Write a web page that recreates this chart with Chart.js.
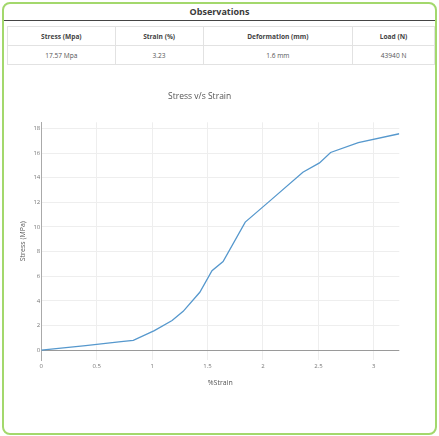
<!DOCTYPE html>
<html>
<head>
<meta charset="utf-8">
<script src="https://cdn.jsdelivr.net/npm/chart.js@4/dist/chart.umd.min.js"></script>
<style>
  html, body { margin: 0; padding: 0; background: #fff; width: 439px; height: 436px; overflow: hidden; font-family: "Open Sans", sans-serif; }
  #card { position: absolute; left: 2px; top: 2px; width: 435px; height: 433px; box-sizing: border-box; border: 2px solid #a3d86c; border-radius: 8px; }
  #head { position: absolute; left: 0; top: 0; width: 100%; height: 16px; line-height: 16px; text-align: center; font-weight: bold; font-size: 9px; color: #3a3a3a; border-bottom: 1.5px solid #444; }
  table { position: absolute; left: 3px; top: 22px; width: 428px; height: 37px; border-collapse: collapse; font-size: 6.6px; color: #555; }
  td, th { border: 1px solid #e2e2e2; text-align: center; padding: 0; height: 18px; }
  th { font-weight: bold; color: #444; }
  #chartBox { position: absolute; left: 0; top: 80px; width: 439px; height: 320px; }
</style>
</head>
<body>
<div id="card">
  <div id="head">Observations</div>
  <table id="obs">
    <colgroup><col style="width:108px"><col style="width:88px"><col style="width:150px"><col style="width:82px"></colgroup>
    <tr id="hdr"></tr>
    <tr id="val"></tr>
  </table>
</div>
<div id="chartBox"><canvas id="c" width="439" height="320"></canvas></div>
<script>
const tableHeaders = ["Stress (Mpa)", "Strain (%)", "Deformation (mm)", "Load (N)"];
const tableValues = ["17.57 Mpa", "3.23", "1.6 mm", "43940 N"];

const strain = [0, 0.4, 0.72, 0.83, 1.02, 1.18, 1.28, 1.43, 1.54, 1.64, 1.84, 2.06, 2.36, 2.51, 2.61, 2.86, 3.23];
const stress = [0, 0.37, 0.69, 0.8, 1.58, 2.4, 3.15, 4.7, 6.45, 7.2, 10.4, 12.1, 14.45, 15.2, 16.05, 16.85, 17.57];

const xTicks = [0, 0.5, 1, 1.5, 2, 2.5, 3];
const yTicks = [0, 2, 4, 6, 8, 10, 12, 14, 16, 18];

const hdr = document.getElementById('hdr');
tableHeaders.forEach(h => { const th = document.createElement('th'); th.textContent = h; hdr.appendChild(th); });
const val = document.getElementById('val');
tableValues.forEach(v => { const td = document.createElement('td'); td.textContent = v; val.appendChild(td); });

const tickColor = '#777';
new Chart(document.getElementById('c'), {
  type: 'line',
  data: {
    datasets: [{
      data: strain.map((x, i) => ({ x: x, y: stress[i] })),
      borderColor: 'rgb(86,152,205)',
      borderWidth: 1.3,
      pointRadius: 0,
      tension: 0,
      fill: false
    }]
  },
  options: {
    responsive: false,
    animation: false,
    layout: { padding: { left: 0, right: 39.7, top: 0, bottom: 0 } },
    plugins: {
      legend: { display: false },
      tooltip: { enabled: false },
      title: {
        display: true,
        text: 'Stress v/s Strain',
        color: '#555',
        font: { family: 'Open Sans', size: 8.5, weight: 'normal' },
        padding: { top: 11.9, bottom: 20.2 }
      }
    },
    scales: {
      x: {
        type: 'linear',
        min: 0,
        max: 3.23,
        afterBuildTicks: s => { s.ticks = xTicks.map(v => ({ value: v })); },
        afterFit: s => { s.height = 40; },
        ticks: { color: tickColor, font: { family: 'Open Sans', size: 6 }, padding: 3, maxRotation: 0, autoSkip: false, callback: v => String(v) },
        grid: { color: '#eeeeee', lineWidth: 1, drawTicks: false },
        border: { display: false },
        title: { display: true, text: '%Strain', color: '#555', font: { family: 'Open Sans', size: 7 }, padding: { top: 0, bottom: 12.5 } }
      },
      y: {
        type: 'linear',
        min: -0.8,
        max: 18.5,
        afterBuildTicks: s => { s.ticks = yTicks.map(v => ({ value: v })); },
        afterFit: s => { s.width = 41.3; },
        ticks: { color: tickColor, font: { family: 'Open Sans', size: 6 }, padding: 1, callback: v => String(v) },
        grid: { color: ctx => (ctx.tick && ctx.tick.value === 0) ? '#9a9a9a' : '#eeeeee', lineWidth: 1, drawTicks: false },
        border: { display: true, color: '#aaaaaa', width: 1 },
        title: { display: true, text: 'Stress (MPa)', color: '#555', font: { family: 'Open Sans', size: 7 }, padding: { top: 18.8, bottom: 0 } }
      }
    }
  }
});
</script>
</body>
</html>
